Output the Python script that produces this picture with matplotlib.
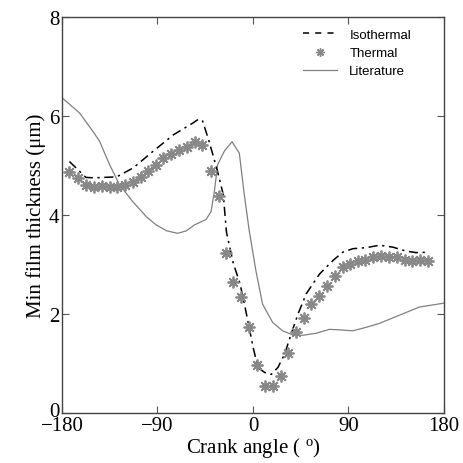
import numpy as np
import matplotlib
matplotlib.use('Agg')
import matplotlib.pyplot as plt
import matplotlib.lines as mlines
import matplotlib.transforms as mtransforms

# thermal model (markers)
thermal_x = [-173, -165, -157.5, -150, -142.5, -135, -128, -121, -113.5, -106, -99, -91.5,
             -84.5, -77, -69.5, -62, -55, -48, -40, -32.5, -25.5, -18.5, -11, -4, 3.5,
             11, 18.5, 26, 33, 40.5, 48, 55, 62, 70, 77, 84.5, 91.5, 99, 106, 113.5, 121,
             128, 135.5, 143, 150, 157.5, 165]
thermal_y = [4.87, 4.74, 4.60, 4.56, 4.59, 4.56, 4.57, 4.61, 4.66, 4.77, 4.88, 5.02,
             5.15, 5.23, 5.31, 5.38, 5.47, 5.42, 4.89, 4.39, 3.23, 2.64, 2.34, 1.74, 0.97,
             0.55, 0.55, 0.74, 1.22, 1.64, 1.92, 2.20, 2.36, 2.56, 2.76, 2.95, 3.01, 3.08,
             3.10, 3.16, 3.17, 3.16, 3.15, 3.09, 3.08, 3.10, 3.08]

# isothermal model (dashed line)
iso_x = [-173, -157.5, -150, -140, -128.5, -113, -94, -75, -56.5, -52.5, -47.8, -41.4,
         -33.4, -28, -25, -18.5, -12.2, -7.5, 0.2, 4.6, 10.9, 17.2, 23.5, 29.8, 36, 42.4,
         50.2, 62.8, 75.3, 84.7, 94.2, 106.7, 119.3, 131.9, 144.4, 153.8, 165.5]
iso_y = [5.08, 4.76, 4.75, 4.76, 4.77, 4.95, 5.29, 5.62, 5.86, 5.92, 5.92, 5.49,
         4.88, 4.41, 3.65, 3.02, 2.61, 2.14, 1.32, 0.92, 0.82, 0.78, 0.92, 1.19, 1.60, 2.00,
         2.41, 2.81, 3.08, 3.25, 3.32, 3.34, 3.39, 3.35, 3.27, 3.24, 3.25]

# literature
lit_x = [-180, -163.4, -150.9, -144.6, -135.2, -125.8, -113.3, -100.7, -91.3, -81.3, -71,
         -62.8, -55.2, -44.2, -39.5, -36.4, -33.3, -27, -19.8, -12.9, -8.2, -3.6, 2.7, 9,
         18.5, 27.9, 37.3, 46.8, 59.3, 71.9, 81.4, 93.9, 106.5, 119, 131.6, 144.2, 156.8, 180]
lit_y = [6.37, 6.06, 5.69, 5.49, 5.02, 4.61, 4.27, 3.97, 3.80, 3.68, 3.63,
         3.68, 3.80, 3.91, 4.07, 4.48, 5.02, 5.29, 5.48, 5.25, 4.41, 3.69, 2.88, 2.20,
         1.83, 1.66, 1.58, 1.57, 1.61, 1.69, 1.68, 1.66, 1.73, 1.81, 1.92, 2.03, 2.14, 2.22]

plt.rcParams['font.family'] = 'Liberation Serif'
plt.rcParams['mathtext.fontset'] = 'custom'
plt.rcParams['mathtext.rm'] = 'Liberation Serif'
plt.rcParams['mathtext.it'] = 'Liberation Serif:italic'

fig = plt.figure(figsize=(4.64, 4.64), dpi=100)
ax = fig.add_axes([62/464., 50/464., 382/464., 396/464.])

ax.plot(lit_x, lit_y, color='#808080', lw=0.9)
ax.plot(iso_x, iso_y, color='black', lw=1.1, linestyle=(0, (6, 3, 1.5, 3)))
ax.plot(thermal_x, thermal_y, linestyle='none', marker=(8, 2, 0), markersize=8.5,
        color='#888888', markeredgecolor='#888888', markeredgewidth=1.3)

ax.set_xlim(-180, 180)
ax.set_ylim(0, 8)
ax.set_xticks([-180, -90, 0, 90, 180])
ax.set_yticks([0, 2, 4, 6, 8])
ax.tick_params(direction='in', top=True, right=True, length=5, width=0.8,
               color='#555555', labelsize=15, pad=2)
for s in ax.spines.values():
    s.set_color('#444444')
    s.set_linewidth(1.0)

# nudge the "0" label up a little so it sits just above "-180"
lab0 = ax.get_yticklabels()[0]
lab0.set_transform(lab0.get_transform() +
                   mtransforms.ScaledTranslation(0, 4/100., fig.dpi_scale_trans))

ax.set_xlabel('Crank angle ( $^{\\mathrm{o}}$)', fontsize=15, labelpad=0)
ax.set_ylabel('Min film thickness (\u03bcm)', fontsize=15, labelpad=2)

h_iso = mlines.Line2D([], [], color='black', lw=1.1, linestyle=(0, (4, 4)))
h_th = mlines.Line2D([], [], linestyle='none', marker=(8, 2, 0), markersize=6,
                     color='#888888', markeredgewidth=1.0)
h_lit = mlines.Line2D([], [], color='#808080', lw=0.9)
ax.legend([h_iso, h_th, h_lit], ['Isothermal', 'Thermal', 'Literature'],
          loc='upper right', frameon=False, prop={'family': 'Liberation Sans', 'size': 9.5},
          handlelength=2.6, handletextpad=0.9, labelspacing=0.45,
          bbox_to_anchor=(0.945, 1.0))

fig.savefig('out.png', dpi=100)
